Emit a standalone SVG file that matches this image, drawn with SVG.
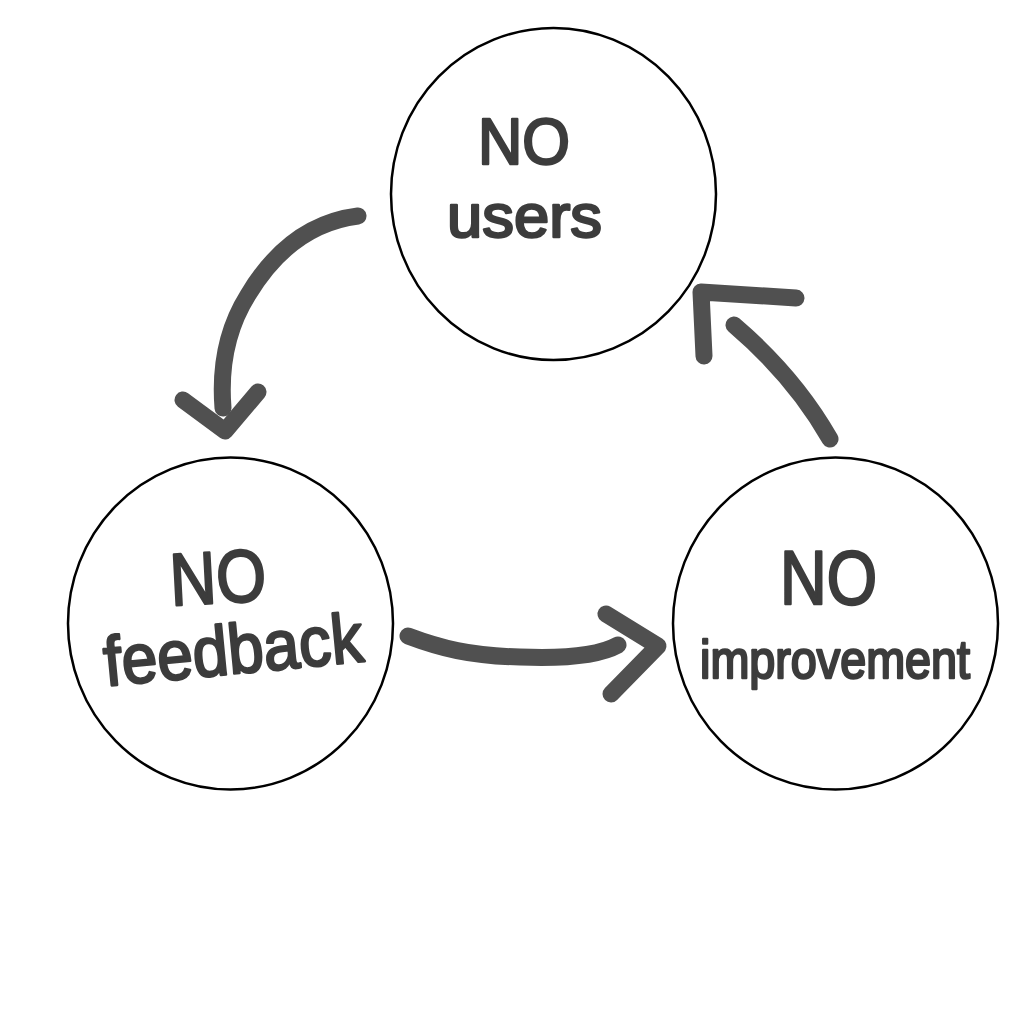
<svg xmlns="http://www.w3.org/2000/svg" width="1024" height="1024" viewBox="0 0 1024 1024">
<style>
.node{fill:#fff;stroke:#000;stroke-width:2.5}
.lbl{font-family:"Liberation Sans","DejaVu Sans",sans-serif;fill:#3c3c3c;stroke:#3c3c3c;stroke-width:2.5;stroke-linejoin:round}
.arr{fill:none;stroke:#505050;stroke-width:17;stroke-linecap:round;stroke-linejoin:round}
</style>
<rect width="1024" height="1024" fill="#fff"/>
<g id="node-users">
<ellipse class="node" cx="553.5" cy="194" rx="162.5" ry="166"/>
<text class="lbl" x="478" y="164" font-size="64" textLength="92" lengthAdjust="spacingAndGlyphs">NO</text>
<text class="lbl" x="447" y="237" font-size="62" textLength="155" lengthAdjust="spacingAndGlyphs">users</text>
</g>
<g id="node-feedback">
<ellipse class="node" cx="230.5" cy="623.5" rx="162.5" ry="166"/>
<text class="lbl" x="170" y="603" font-size="74" textLength="96" lengthAdjust="spacingAndGlyphs" transform="rotate(-3 218 580)">NO</text>
<text class="lbl" x="106" y="686" font-size="70" textLength="260" lengthAdjust="spacingAndGlyphs" transform="rotate(-5.5 106 686)">feedback</text>
</g>
<g id="node-improvement">
<ellipse class="node" cx="835.5" cy="623.5" rx="162.5" ry="166"/>
<text class="lbl" x="780" y="604" font-size="76" textLength="97" lengthAdjust="spacingAndGlyphs">NO</text>
<text class="lbl" x="700" y="678" font-size="54" textLength="270" lengthAdjust="spacingAndGlyphs">improvement</text>
</g>
<g id="connectors">
<path class="arr" d="M358 216 C310 222 275 250 248 295 C226 330 220 370 223 408"/>
<path class="arr" d="M183 400 L225 431 L258 392"/>
<path class="arr" d="M408 636 C440 648 470 656 520 657 C570 659 600 655 618 645"/>
<path class="arr" d="M606 614 L658 646 L611 694"/>
<path class="arr" d="M830 439 C805 395 775 360 734 325"/>
<path class="arr" d="M704 356 L701 292 L796 298"/>
</g>
</svg>
